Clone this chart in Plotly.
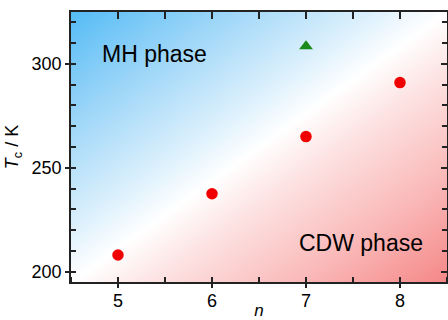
import numpy as np
import plotly.graph_objects as go

n_vals = [5, 6, 7, 8]
tc_vals = [208, 237.5, 265, 291]
mh_n = [7]
mh_tc = [308.5]

x_range = [4.5, 8.5]
y_range = [195, 325]

# background gradient (styling only)
gx = np.linspace(x_range[0], x_range[1], 60)
gy = np.linspace(y_range[0], y_range[1], 60)
U, V = np.meshgrid((gx - x_range[0]) / (x_range[1] - x_range[0]),
                   (y_range[1] - gy) / (y_range[1] - y_range[0]))
Z = U + V

fig = go.Figure()
fig.add_trace(go.Heatmap(
    x=gx, y=gy, z=Z, zsmooth="best", showscale=False, hoverinfo="skip",
    zmin=0, zmax=2,
    colorscale=[[0, "rgb(85,188,245)"], [0.2, "rgb(155,213,248)"], [0.4, "rgb(220,240,252)"],
                [0.5, "rgb(255,255,255)"], [0.6, "rgb(253,228,228)"], [0.8, "rgb(250,185,185)"],
                [1, "rgb(245,135,135)"]],
))
fig.add_trace(go.Scatter(x=n_vals, y=tc_vals, mode="markers",
                         marker=dict(symbol="circle", size=11.5, color="#f00000"), showlegend=False))
fig.add_trace(go.Scatter(x=mh_n, y=mh_tc, mode="markers",
                         marker=dict(symbol="triangle-up", size=12, color="#1a8a1a"), showlegend=False))
fig.add_trace(go.Scatter(x=[None], y=[None], xaxis="x2", yaxis="y2", showlegend=False, hoverinfo="skip"))

tickfont = dict(family="Liberation Sans, Arial", size=18, color="black")
axline = dict(showline=True, linecolor="#222", linewidth=1.5, showgrid=False, zeroline=False,
              automargin=False)

fig.update_layout(
    width=448, height=320,
    margin=dict(l=71, r=1, t=12, b=38),
    paper_bgcolor="white", plot_bgcolor="white",
    showlegend=False,
    font=dict(family="Liberation Sans, Arial", size=17, color="black"),
    xaxis=dict(range=x_range, tickvals=[5, 6, 7, 8], ticks="outside", ticklen=4, tickwidth=1.5,
               tickcolor="#222", tickfont=tickfont, ticklabelstandoff=-2,
               minor=dict(dtick=0.5, ticks="inside", ticklen=5, tickwidth=1.5, tickcolor="#222"),
               title=dict(text="<i>n</i>", standoff=2, font=dict(size=17)), **axline),
    yaxis=dict(range=y_range, tickvals=[200, 250, 300], ticks="outside", ticklen=4, tickwidth=1.5,
               tickcolor="#222", tickfont=tickfont,
               minor=dict(dtick=10, tick0=200, ticks="inside", ticklen=5, tickwidth=1.5, tickcolor="#222"),
               title=dict(text="<i>T</i><sub>c</sub> / K", standoff=8, font=dict(size=18)), **axline),
    xaxis2=dict(range=x_range, overlaying="x", side="top", anchor="y", tickvals=[5, 6, 7, 8],
                ticks="inside", ticklen=7, tickwidth=1.5, tickcolor="#222", showticklabels=False,
                minor=dict(dtick=0.5, ticks="inside", ticklen=7, tickwidth=1.5, tickcolor="#222"), **axline),
    yaxis2=dict(range=y_range, overlaying="y", side="right", anchor="x", tickvals=[200, 250, 300],
                ticks="inside", ticklen=6, tickwidth=1.5, tickcolor="#222", showticklabels=False,
                minor=dict(dtick=10, tick0=200, ticks="inside", ticklen=5, tickwidth=1.5, tickcolor="#222"), **axline),
    annotations=[
        dict(x=4.81, y=304.7, xref="x", yref="y", text="MH phase", showarrow=False,
             xanchor="left", yanchor="middle", font=dict(size=23, color="black")),
        dict(x=8.27, y=214, xref="x", yref="y", text="CDW phase", showarrow=False,
             xanchor="right", yanchor="middle", font=dict(size=23, color="black")),
    ],
)

fig.write_html("out.html")
